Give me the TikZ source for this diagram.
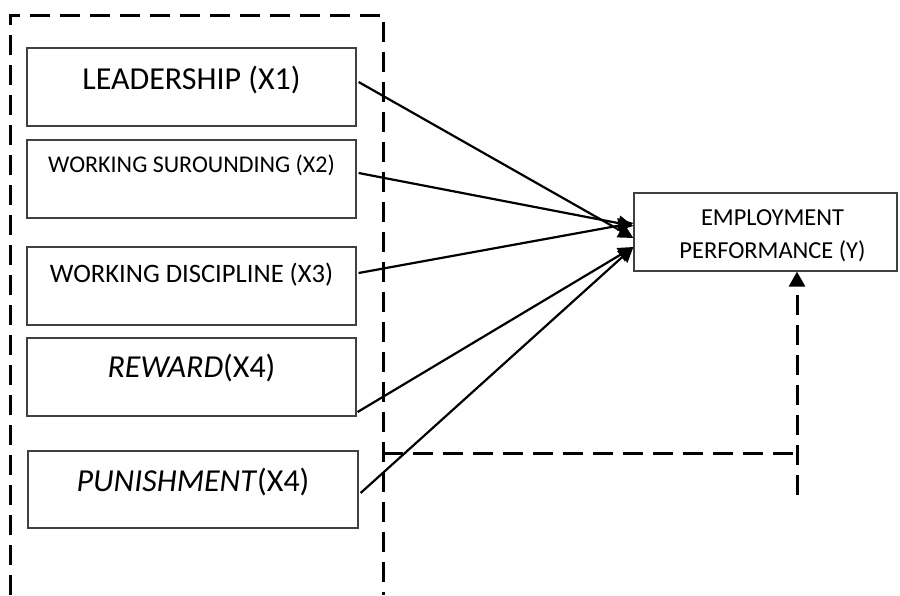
\documentclass[tikz,border=0pt]{standalone}
\usepackage{fontspec}
\setmainfont{Carlito}
\usetikzlibrary{arrows.meta}
\begin{document}
\begin{tikzpicture}[x=0.5pt,y=-0.5pt,
  box/.style={draw=black!75, line width=0.6pt, inner sep=0pt, minimum width=164.5pt, minimum height=39pt},
  conn/.style={line width=1.1pt, -{Triangle[length=7.5pt,width=7.5pt]}},
  dsh/.style={line width=1.5pt, dash pattern=on 10pt off 5pt},
  bigtxt/.style={font=\fontsize{16}{18}\selectfont},
  midtxt/.style={font=\fontsize{12}{14}\selectfont},
  medtxt/.style={font=\fontsize{13.3}{15}\selectfont},
  emptxt/.style={font=\fontsize{12.2}{16.5}\selectfont, align=center}
]
\useasboundingbox (0,0) rectangle (900,595);
% outer dashed frame
\draw[dsh] (10,595) -- (10,15) -- (383,15) -- (383,595);
% variable boxes
\node[box, label={[bigtxt, yshift=3.5pt]center:LEADERSHIP (X1)}] (b1) at (191.5,87) {};
\node[box, label={[midtxt, yshift=7pt]center:WORKING SUROUNDING (X2)}] (b2) at (191.5,179) {};
\node[box, label={[medtxt, yshift=5.5pt]center:WORKING DISCIPLINE (X3)}] (b3) at (191.5,286) {};
\node[box, label={[bigtxt, yshift=4.5pt]center:\textit{REWARD}(X4)}] (b4) at (191.5,377) {};
\node[box, minimum width=165pt, minimum height=38.5pt, label={[bigtxt, yshift=3.75pt]center:\textit{PUNISHMENT}(X4)}] (b5) at (193,489.5) {};
% dependent variable
\node[box, minimum width=131.5pt, label={[emptxt, xshift=3.5pt, yshift=-1.75pt]center:EMPLOYMENT\\PERFORMANCE (Y)}] (emp) at (765.5,232) {};
% arrows
\draw[conn] ([xshift=1pt,yshift=2.5pt]b1.east) -- ([yshift=-3pt]emp.west);
\draw[conn] ([xshift=1pt,yshift=3pt]b2.east) -- ([yshift=3pt]emp.west);
\draw[conn] ([xshift=1pt,yshift=6.5pt]b3.east) -- ([yshift=4.5pt]emp.west);
\draw[conn] ([xshift=0.5pt,yshift=-17.5pt]b4.east) -- ([yshift=-7.5pt]emp.west);
\draw[conn] ([xshift=1pt,yshift=-1.75pt]b5.east) -- ([yshift=-7.5pt]emp.west);
% moderating dashed path
\coordinate (c1) at (383,453);
\coordinate (c2) at (797,453);
\coordinate (c3) at (797,495);
\draw[dsh] (c1) -- (c2);
\draw[dsh, -{Triangle[length=7.5pt,width=8pt]}] (c3) -- (emp.south -| c2);
\end{tikzpicture}
\end{document}
